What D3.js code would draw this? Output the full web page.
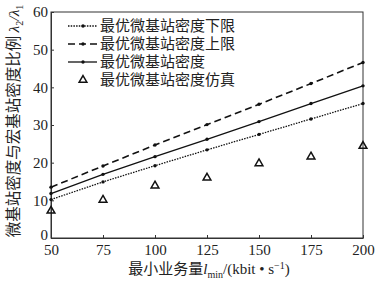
<!DOCTYPE html>
<html lang="zh">
  <head>
    <meta charset="utf-8" />
    <title>最优微基站密度</title>
    <script src="https://d3js.org/d3.v7.min.js"></script>
    <style>
      body { margin: 0; background: #fff; }
      text { font-family: "Liberation Serif", "Noto Sans CJK SC", serif; fill: #222; }
    </style>
  </head>
  <body>
    <div id="chart"></div>
    <script>
      var loads = [50, 75, 100, 125, 150, 175, 200];
      var lowerBound = [10.2, 14.9, 19.2, 23.4, 27.5, 31.6, 35.7];
      var upperBound = [13.5, 19.1, 24.7, 30.1, 35.5, 41.0, 46.6];
      var optimal = [11.8, 16.9, 21.6, 26.2, 30.9, 35.7, 40.4];
      var simulated = [7.2, 10.1, 13.9, 16.0, 19.8, 21.6, 24.4];
      var xTicks = [50, 75, 100, 125, 150, 175, 200];
      var yTicks = [0, 10, 20, 30, 40, 50, 60];
      var legendNames = ["最优微基站密度下限", "最优微基站密度上限", "最优微基站密度", "最优微基站密度仿真"];

      var width = 378, height = 282;
      var margin = { left: 51, right: 15, top: 12, bottom: 44 };

      var svg = d3.select("#chart").append("svg")
        .attr("width", width)
        .attr("height", height);

      var x = d3.scaleLinear().domain([50, 200]).range([margin.left, width - margin.right]);
      var y = d3.scaleLinear().domain([0, 60]).range([height - margin.bottom, margin.top]);

      // frame
      svg.append("rect")
        .attr("x", x(50)).attr("y", y(60))
        .attr("width", x(200) - x(50)).attr("height", y(0) - y(60))
        .attr("fill", "none").attr("stroke", "#333").attr("stroke-width", 1);

      var xAxis = svg.append("g")
        .attr("transform", "translate(0," + y(0) + ")")
        .call(d3.axisBottom(x).tickValues(xTicks).tickSizeInner(-3).tickSizeOuter(0).tickPadding(6));
      var yAxis = svg.append("g")
        .attr("transform", "translate(" + x(50) + ",0)")
        .call(d3.axisLeft(y).tickValues(yTicks).tickSizeInner(-3).tickSizeOuter(0).tickPadding(3));
      [xAxis, yAxis].forEach(function (g) {
        g.select(".domain").attr("stroke", "#333");
        g.selectAll(".tick line").attr("stroke", "#333");
        g.selectAll(".tick text")
          .style("font-family", "Liberation Serif")
          .style("font-size", "15px").attr("fill", "#222");
      });
      // the "0" sits a little higher so it clears the "50" below it
      yAxis.selectAll(".tick text").filter(function (d) { return d === 0; }).attr("dy", "0.1em");

      var series = [
        { values: lowerBound, dash: "1.5,1.2", width: 1.3 },
        { values: upperBound, dash: "7,4", width: 1.6 },
        { values: optimal, dash: null, width: 1.3 }
      ];

      var line = d3.line()
        .x(function (d, i) { return x(loads[i]); })
        .y(function (d) { return y(d); });

      series.forEach(function (s) {
        svg.append("path")
          .datum(s.values)
          .attr("fill", "none")
          .attr("stroke", "#111")
          .attr("stroke-width", s.width)
          .attr("stroke-dasharray", s.dash)
          .attr("d", line);
        svg.selectAll(null)
          .data(s.values)
          .enter().append("circle")
          .attr("cx", function (d, i) { return x(loads[i]); })
          .attr("cy", function (d) { return y(d); })
          .attr("r", 1.7)
          .attr("fill", "#111");
      });

      var tri = d3.symbol().type(d3.symbolTriangle).size(26);
      svg.selectAll(".sim")
        .data(simulated)
        .enter().append("path")
        .attr("class", "sim")
        .attr("transform", function (d, i) { return "translate(" + x(loads[i]) + "," + y(d) + ")"; })
        .attr("d", tri)
        .attr("fill", "none")
        .attr("stroke", "#111")
        .attr("stroke-width", 1.5);

      // legend
      var legendY = [26, 44, 62, 80];
      legendNames.forEach(function (name, i) {
        var ly = legendY[i];
        if (i < 3) {
          svg.append("line")
            .attr("x1", 68).attr("x2", 97).attr("y1", ly).attr("y2", ly)
            .attr("stroke", "#111")
            .attr("stroke-width", series[i].width)
            .attr("stroke-dasharray", series[i].dash);
          svg.append("circle").attr("cx", 83).attr("cy", ly).attr("r", 1.7).attr("fill", "#111");
        } else {
          svg.append("path")
            .attr("transform", "translate(83," + ly + ")")
            .attr("d", tri).attr("fill", "none")
            .attr("stroke", "#111").attr("stroke-width", 1.5);
        }
        svg.append("text")
          .attr("x", 100).attr("y", ly + 5)
          .style("font-family", "Noto Sans CJK SC")
          .style("font-size", "15px")
          .text(name);
      });

      // axis titles
      var xt = svg.append("text")
        .attr("x", 209).attr("y", 274)
        .attr("text-anchor", "middle")
        .style("font-size", "15px");
      xt.append("tspan").style("font-family", "Noto Sans CJK SC").text("最小业务量");
      xt.append("tspan").style("font-style", "italic").text("l");
      xt.append("tspan").attr("dy", 4).style("font-size", "10px").text("min");
      xt.append("tspan").attr("dy", -4).text("/(kbit • s");
      xt.append("tspan").attr("dy", -5).style("font-size", "10px").text("−1");
      xt.append("tspan").attr("dy", 5).text(")");

      var yt = svg.append("text")
        .attr("transform", "translate(19," + 121 + ") rotate(-90)")
        .attr("text-anchor", "middle")
        .style("font-size", "15.5px");
      yt.append("tspan").style("font-family", "Noto Sans CJK SC").text("微基站密度与宏基站密度比例 ");
      yt.append("tspan").style("font-style", "italic").text("λ");
      yt.append("tspan").attr("dy", 4).style("font-size", "10px").text("2");
      yt.append("tspan").attr("dy", -4).style("font-style", "italic").text("/λ");
      yt.append("tspan").attr("dy", 4).style("font-size", "10px").text("1");
    </script>
  </body>
</html>
